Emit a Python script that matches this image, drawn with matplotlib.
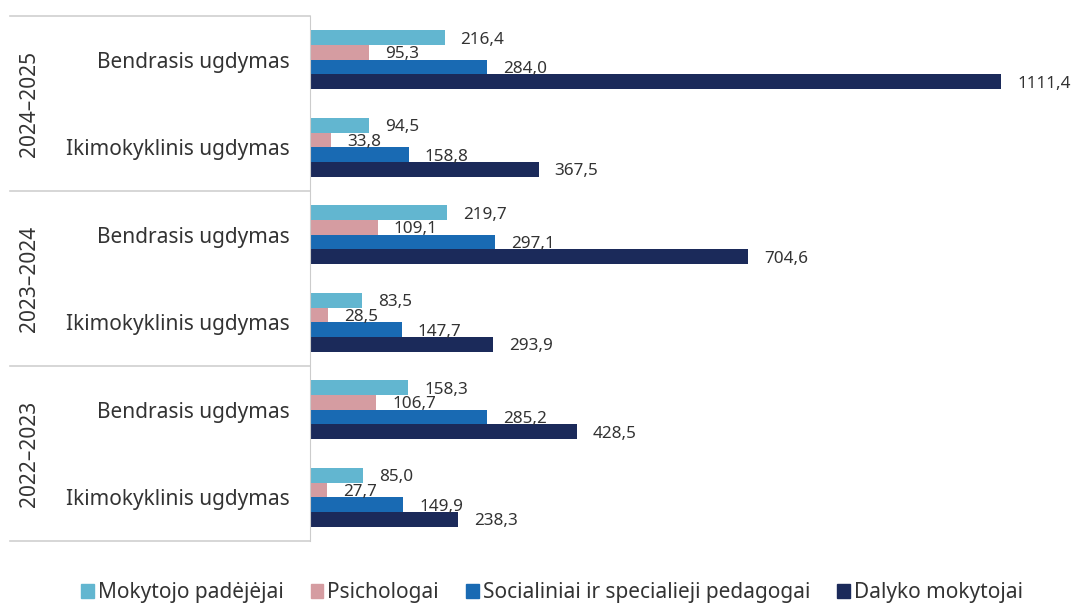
import matplotlib.pyplot as plt
from matplotlib.lines import Line2D
from matplotlib.patches import Patch
import numpy as np

plt.rcParams['font.family'] = ['Noto Sans', 'DejaVu Sans']

years = ['2024–2025', '2023–2024', '2022–2023']
categories = ['Bendrasis ugdymas', 'Ikimokyklinis ugdymas'] * 3
series = ['Mokytojo padėjėjai', 'Psichologai',
          'Socialiniai ir specialieji pedagogai', 'Dalyko mokytojai']
colors = ['#62b6d0', '#d59ca1', '#196ab3', '#1b2a5a']

mokytojo_padejejai = [216.4, 94.5, 219.7, 83.5, 158.3, 85.0]
psichologai = [95.3, 33.8, 109.1, 28.5, 106.7, 27.7]
socialiniai = [284.0, 158.8, 297.1, 147.7, 285.2, 149.9]
dalyko_mokytojai = [1111.4, 367.5, 704.6, 293.9, 428.5, 238.3]
values = [mokytojo_padejejai, psichologai, socialiniai, dalyko_mokytojai]

fig = plt.figure(figsize=(10.72, 6.04), dpi=100)
ax = fig.add_axes([0.2892, 0.1043, 0.7108, 0.8692])

h = 0.168
y = np.arange(len(categories)) + 0.5
text_col = '#333333'
for i, (vals, col) in enumerate(zip(values, colors)):
    yy = y + (i - 1.5) * h
    ax.barh(yy, vals, height=h, color=col, label=series[i])
    for v, yi in zip(vals, yy):
        ax.annotate(f'{v:.1f}'.replace('.', ','), (v, yi), xytext=(11.5, -1.5),
                    textcoords='offset points', va='center', ha='left',
                    fontsize=12.3, color=text_col)

ax.set_xlim(0, 1225)
ax.set_ylim(6, 0)
ax.set_xticks([])
ax.set_yticks(y)
ax.set_yticklabels(categories, fontsize=15, color=text_col)
ax.tick_params(axis='y', length=0, pad=14.5)
for s in ['top', 'right', 'bottom']:
    ax.spines[s].set_visible(False)
ax.spines['left'].set_color('#cccccc')

# group boxes and year labels
x0 = -0.394
for k in range(4):
    ax.add_line(Line2D([x0, 0], [1 - k / 3, 1 - k / 3], transform=ax.transAxes,
                       color='#d0d0d0', lw=1.2, clip_on=False))
for k, yr in enumerate(years):
    ax.text(-0.368, 1 - (k + 0.5) / 3, yr, transform=ax.transAxes, rotation=90,
            ha='center', va='center', fontsize=15, color=text_col)

handles = [Patch(color=c) for c in colors]
fig.legend(handles, series, loc='lower center', bbox_to_anchor=(0.515, -0.03),
           ncol=4, frameon=False, fontsize=15, handlelength=0.6, handleheight=0.6,
           handletextpad=0.2, columnspacing=1.3, labelcolor=text_col)

fig.savefig('out.png', dpi=100)
